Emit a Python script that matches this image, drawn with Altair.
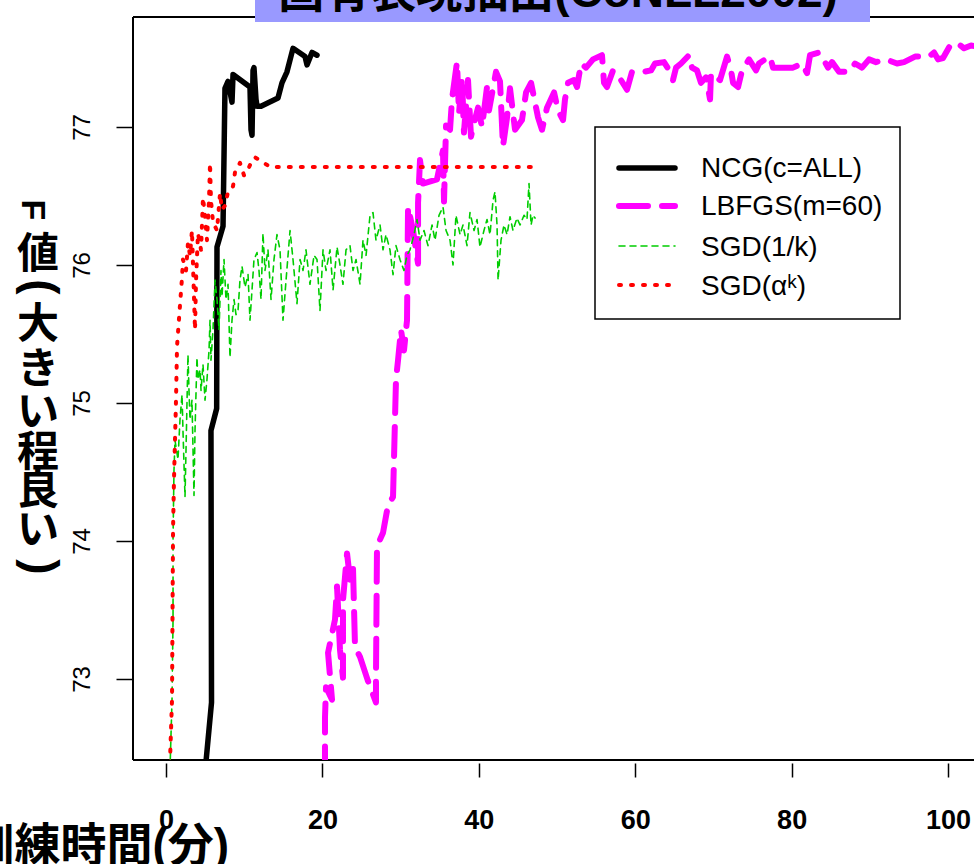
import altair as alt
import pandas as pd

# ---------------- data ----------------
series_names = ["NCG(c=ALL)", "LBFGS(m=60)", "SGD(1/k)", "SGD(αᵏ)"]

ncg_t = [4.95, 5.82, 5.75, 6.48, 6.52, 7.29, 7.54, 7.93, 8.44, 8.57,
         10.74, 10.87, 11.00, 11.13, 11.25, 11.51, 11.64, 12.15, 14.32, 14.83,
         15.47, 16.24, 17.78, 18.03, 18.67, 19.31]
ncg_f = [72.30, 72.83, 74.80, 74.96, 76.13, 76.28, 77.28, 77.33, 77.18, 77.38,
         77.29, 76.98, 76.94, 77.41, 77.43, 77.20, 77.15, 77.15, 77.21, 77.32,
         77.40, 77.57, 77.51, 77.45, 77.54, 77.52]

lbfgs_t = [20.33, 20.33, 20.46, 21.23, 20.72, 21.61, 21.87, 22.25, 22.63, 22.63,
           23.15, 23.53, 23.91, 24.17, 24.81, 25.80, 26.85, 26.85, 26.98, 27.75,
           28.39, 29.03, 29.41, 29.67, 30.05, 30.43, 30.82, 30.95, 31.59, 32.23,
           32.23, 32.48, 32.86, 34.65, 35.42, 35.55, 35.81, 36.32, 36.57, 37.21,
           37.47, 37.85, 38.10, 38.62, 39.00, 39.26, 39.90, 40.41, 41.05, 41.30,
           42.20, 42.71, 43.09, 43.61, 43.99, 44.63, 45.52, 46.04, 46.68, 47.57,
           48.08, 48.72, 49.62, 50.13, 50.77, 51.02, 51.41, 52.17, 52.56, 53.07,
           53.71, 54.60, 55.75, 56.01, 56.39, 57.16, 58.18, 58.95, 59.59, 61.13,
           62.02, 62.53, 63.68, 64.58, 64.83, 65.22, 65.86, 66.88, 67.26, 67.90,
           68.41, 69.05, 69.57, 69.69, 70.84, 71.74, 72.25, 72.51, 73.15, 73.66,
           74.55, 75.45, 75.83, 76.60, 77.24, 77.62, 78.52, 80.18, 81.33, 81.97,
           82.35, 83.50, 84.27, 84.65, 85.17, 86.06, 87.34, 88.11, 89.00, 89.90,
           90.79, 92.07, 93.48, 94.37, 95.78, 97.57, 98.21, 98.72, 99.36, 100.26,
           101.15, 102.05, 102.94, 104.10]
lbfgs_f = [72.30, 72.72, 72.94, 72.85, 73.19, 73.43, 73.67, 73.21, 73.01, 73.57,
           73.91, 73.72, 73.81, 73.23, 73.16, 72.99, 72.83, 73.01, 73.96, 74.06,
           74.26, 74.32, 75.17, 75.31, 75.53, 75.38, 75.60, 76.42, 76.25, 76.01,
           76.45, 76.76, 76.59, 76.62, 76.83, 76.46, 77.01, 76.98, 77.20, 77.47,
           77.10, 77.36, 76.96, 77.34, 76.93, 77.00, 77.14, 77.00, 77.29, 77.12,
           77.40, 77.33, 76.86, 77.07, 77.28, 76.98, 77.05, 77.25, 77.32, 77.07,
           76.98, 77.14, 77.25, 77.12, 77.05, 77.20, 77.32, 77.34, 77.29, 77.46,
           77.43, 77.49, 77.52, 77.32, 77.29, 77.41, 77.34, 77.27, 77.40, 77.40,
           77.41, 77.46, 77.47, 77.39, 77.34, 77.43, 77.46, 77.52, 77.43, 77.41,
           77.32, 77.36, 77.20, 77.39, 77.34, 77.51, 77.41, 77.32, 77.29, 77.41,
           77.49, 77.41, 77.46, 77.49, 77.51, 77.43, 77.43, 77.43, 77.46, 77.39,
           77.52, 77.54, 77.47, 77.43, 77.47, 77.40, 77.40, 77.46, 77.43, 77.49,
           77.47, 77.49, 77.46, 77.47, 77.51, 77.51, 77.54, 77.49, 77.50, 77.59,
           77.61, 77.57, 77.59, 77.58]

sgd1k_t = [0.51, 0.77, 0.90, 0.90, 1.02, 1.15, 1.53, 1.79, 2.05, 2.17,
           2.43, 2.56, 2.81, 2.94, 3.07, 3.32, 3.58, 3.71, 3.96, 4.09,
           4.35, 4.48, 4.73, 4.99, 5.24, 5.50, 5.63, 5.75, 6.01, 6.27,
           6.52, 6.78, 7.03, 7.16, 7.42, 7.67, 7.93, 8.18, 8.44, 8.70,
           8.95, 9.21, 9.46, 9.72, 10.10, 10.49, 10.74, 11.00, 11.25, 11.64,
           11.89, 12.15, 12.40, 12.66, 13.04, 13.43, 13.81, 14.19, 14.58, 14.96,
           15.35, 15.86, 16.24, 16.75, 17.14, 17.52, 17.90, 18.41, 18.93, 19.31,
           19.69, 20.08, 20.46, 20.97, 21.36, 21.87, 22.25, 22.63, 23.02, 23.53,
           23.91, 24.30, 24.81, 25.19, 25.58, 26.09, 26.47, 26.85, 27.37, 27.75,
           28.13, 28.64, 29.03, 29.41, 29.92, 30.43, 30.82, 31.20, 31.71, 32.10,
           32.48, 32.99, 33.50, 34.02, 34.40, 34.91, 35.42, 35.81, 36.32, 36.70,
           37.08, 37.60, 37.98, 38.49, 38.87, 39.39, 39.77, 40.15, 40.66, 41.05,
           41.43, 41.82, 42.07, 42.33, 42.46, 42.84, 43.22, 43.61, 43.99, 44.37,
           44.88, 45.27, 45.78, 46.16, 46.42, 46.68, 46.93, 47.19]
sgd1k_f = [72.34, 72.85, 73.43, 74.01, 74.51, 74.73, 74.59, 74.88, 75.06, 74.80,
           74.32, 74.66, 75.35, 75.09, 74.88, 75.02, 74.33, 74.80, 75.33, 75.17,
           75.24, 75.09, 75.28, 75.02, 75.17, 75.38, 75.60, 75.31, 75.53, 75.89,
           75.75, 75.53, 75.96, 75.77, 76.04, 75.75, 75.86, 75.33, 75.60, 75.75,
           75.64, 75.67, 75.89, 75.99, 75.84, 75.93, 75.60, 75.82, 76.04, 76.09,
           75.96, 75.75, 76.23, 75.96, 76.11, 75.75, 76.04, 76.22, 76.11, 75.60,
           75.89, 76.25, 76.04, 75.72, 76.04, 75.96, 76.11, 75.86, 76.07, 76.04,
           75.67, 76.11, 75.96, 76.11, 75.82, 76.13, 76.00, 75.86, 76.11, 76.14,
           75.96, 76.04, 75.86, 76.18, 76.07, 76.36, 76.38, 76.18, 76.29, 76.11,
           76.22, 76.11, 75.93, 76.14, 76.04, 75.96, 76.07, 76.11, 76.22, 76.33,
           76.18, 76.25, 76.14, 76.29, 76.18, 76.36, 76.42, 76.25, 76.18, 76.00,
           76.36, 76.22, 76.29, 76.14, 76.38, 76.25, 76.33, 76.13, 76.25, 76.33,
           76.22, 76.47, 76.53, 76.29, 75.89, 76.18, 76.29, 76.22, 76.35, 76.25,
           76.34, 76.29, 76.36, 76.33, 76.59, 76.29, 76.36, 76.34]

sgdak_t = [0.45, 0.77, 0.83, 0.90, 1.02, 1.15, 1.28, 1.41, 1.79, 2.05,
           2.17, 2.56, 2.81, 3.07, 3.32, 3.58, 3.71, 3.84, 4.09, 4.48,
           4.73, 4.99, 5.24, 5.50, 5.63, 5.75, 6.01, 6.52, 6.91, 7.16,
           7.54, 7.93, 8.57, 8.82, 9.21, 9.46, 9.97, 10.49, 11.00, 11.38,
           12.28, 13.30, 47.19]
sgdak_f = [72.30, 72.85, 73.43, 74.08, 74.44, 74.73, 75.02, 75.41, 75.71, 75.91,
           76.04, 75.96, 76.16, 76.07, 76.25, 75.77, 75.53, 75.89, 76.23, 76.11,
           76.49, 76.35, 76.18, 76.47, 76.74, 76.47, 76.31, 76.25, 76.52, 76.40,
           76.43, 76.53, 76.57, 76.67, 76.71, 76.74, 76.65, 76.69, 76.76, 76.78,
           76.75, 76.71, 76.71]

x_ticks = [0, 20, 40, 60, 80, 100]
y_ticks = [73, 74, 75, 76, 77]
x_domain = [-4.22, 103.32]
y_domain = [72.413, 77.797]

title_text = "固有表現抽出(CoNLL2002)"
x_title = "訓練時間(分)"
y_title_chars = ["F", "値", "(", "大", "き", "い", "程", "良", "い", ")"]

# ---------------- tables ----------------
series_t = [ncg_t, lbfgs_t, sgd1k_t, sgdak_t]
series_f = [ncg_f, lbfgs_f, sgd1k_f, sgdak_f]
frames = []
for name, ts, fs in zip(series_names, series_t, series_f):
    frames.append(pd.DataFrame({"series": name, "t": ts, "f": fs,
                                "idx": list(range(len(ts)))}))
df = pd.concat(frames, ignore_index=True)
legend_df = pd.DataFrame({"series": series_names})
one = pd.DataFrame({"k": [0]})

# ---------------- styling ----------------
W, H = 841, 743
LAT = "Liberation Sans"
CJK = "Noto Sans CJK JP"
MIX = "'Liberation Sans', 'Noto Sans CJK JP'"

styles = {
    "NCG(c=ALL)":  dict(color="#000000", strokeWidth=5.5),
    "LBFGS(m=60)": dict(color="#FF00FF", strokeWidth=6, strokeDash=[29, 14]),
    "SGD(1/k)":    dict(color="#00CD00", strokeWidth=1.6, strokeDash=[6, 5]),
    "SGD(αᵏ)":     dict(color="#FF0000", strokeWidth=4, strokeDash=[2, 10]),
}

x_enc = alt.X("t:Q", scale=alt.Scale(domain=x_domain, nice=False, zero=False),
              axis=alt.Axis(values=x_ticks, format="d", grid=False, domain=False, offset=3,
                            tickSize=14, tickWidth=1.5, tickColor="black",
                            labelFont=LAT, labelFontSize=27, labelFontWeight="bold",
                            labelColor="black", labelPadding=30, labelFlush=False,
                            labelOverlap=False,
                            title=x_title, titleFont=MIX, titleFontSize=46,
                            titleFontWeight="bold", titleColor="black", titleAngle=0,
                            titleX=-165, titleY=97, titleAlign="left",
                            titleBaseline="alphabetic"))
y_enc = alt.Y("f:Q", scale=alt.Scale(domain=y_domain, nice=False, zero=False),
              axis=alt.Axis(values=y_ticks, format="d", grid=False, domain=False, offset=1,
                            tickSize=16, tickWidth=1.5, tickColor="black",
                            labelFont=LAT, labelFontSize=24, labelColor="black",
                            labelAngle=270, labelAlign="center", labelBaseline="alphabetic",
                            labelPadding=27, labelOverlap=False, title=None))

layers = []

# frame (left, top, bottom)
layers.append(alt.Chart(one).mark_rule(color="black", strokeWidth=2).encode(
    x=alt.value(0), y=alt.value(0), y2=alt.value(H)))
layers.append(alt.Chart(one).mark_rule(color="black", strokeWidth=2).encode(
    x=alt.value(0), x2=alt.value(W + 5), y=alt.value(0)))
layers.append(alt.Chart(one).mark_rule(color="black", strokeWidth=2).encode(
    x=alt.value(0), x2=alt.value(W + 5), y=alt.value(H)))

# data lines
for name in series_names:
    layers.append(
        alt.Chart(df).transform_filter(alt.datum.series == name)
        .mark_line(clip=True, strokeCap="round", strokeJoin="round", **styles[name])
        .encode(x=x_enc, y=y_enc, order=alt.Order("idx:Q"))
    )

# title banner (cut off at the top of the page)
layers.append(alt.Chart(one).mark_rect(fill="#9999FF").encode(
    x=alt.value(122), x2=alt.value(737), y=alt.value(-30), y2=alt.value(5)))
layers.append(alt.Chart(one).mark_text(font=MIX, fontSize=46, fontWeight="bold",
                                       align="center", baseline="alphabetic",
                                       color="black").encode(
    x=alt.value(425), y=alt.value(-10), text=alt.value(title_text)))

# vertical y-axis title, one character per row
yt_x = [-101, -95, -93, -95, -95, -95, -95, -95, -95, -93]
yt_y = [193, 238, 270, 308, 353, 396, 436, 474, 514, 550]
yt_angle = [90, 0, 90, 0, 0, 0, 0, 0, 0, 90]
yt_size = [34, 42, 46, 42, 42, 42, 42, 42, 42, 46]
for ch, cx, cy, ang, fs in zip(y_title_chars, yt_x, yt_y, yt_angle, yt_size):
    fnt = LAT if ang else CJK
    layers.append(alt.Chart(one).mark_text(font=fnt, fontSize=fs, fontWeight="bold",
                                           angle=ang, align="center", baseline="middle",
                                           color="black").encode(
        x=alt.value(cx), y=alt.value(cy), text=alt.value(ch)))

# legend
layers.append(alt.Chart(one).mark_rect(fill="white", stroke="black", strokeWidth=1.5).encode(
    x=alt.value(462), x2=alt.value(767), y=alt.value(110), y2=alt.value(302)))
sym_y = [151, 189, 229, 268]
txt_y = [152, 190, 231, 270]
for name, sy, ty in zip(series_names, sym_y, txt_y):
    layers.append(
        alt.Chart(legend_df).transform_filter(alt.datum.series == name)
        .mark_rule(strokeCap="round", **styles[name])
        .encode(x=alt.value(486), x2=alt.value(542), y=alt.value(sy))
    )
    layers.append(
        alt.Chart(legend_df).transform_filter(alt.datum.series == name)
        .mark_text(font=LAT, fontSize=28, align="left", baseline="middle", color="black")
        .encode(x=alt.value(568), y=alt.value(ty), text="series:N")
    )

chart = alt.layer(*layers).properties(
    width=W, height=H,
    padding={"left": 133, "top": 17, "right": 0, "bottom": 104},
    autosize=alt.AutoSizeParams(type="none"),
    background="white",
).configure_view(stroke=None)

chart.save("out.html", embed_options={"renderer": "svg", "actions": False})
